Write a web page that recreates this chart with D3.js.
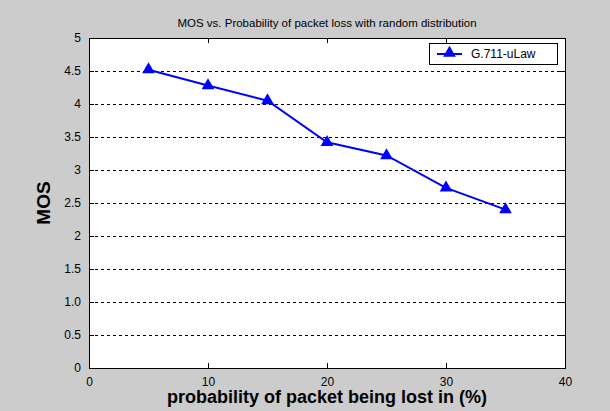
<!DOCTYPE html>
<html>
<head>
<meta charset="utf-8">
<script src="https://cdn.jsdelivr.net/npm/d3@7"></script>
<style>
  html, body { margin: 0; padding: 0; background: #cccccc; }
  svg { display: block; font-family: "Liberation Sans", Arial, sans-serif; }
</style>
</head>
<body>
<svg id="chart" width="610" height="411"></svg>
<script>
// data
const lossPct = [5, 10, 15, 20, 25, 30, 35];
const mosValues = [4.52, 4.28, 4.05, 3.42, 3.22, 2.73, 2.40];
const seriesName = "G.711-uLaw";
const xTicks = [0, 10, 20, 30, 40];
const yTicks = [0, 0.5, 1, 1.5, 2, 2.5, 3, 3.5, 4, 4.5, 5];
const yTickLabels = ["0", "0.5", "1.0", "1.5", "2", "2.5", "3", "3.5", "4", "4.5", "5"];

const svg = d3.select("#chart");
const margin = { top: 38, right: 45, bottom: 43, left: 89 };
const width = 610 - margin.left - margin.right;
const height = 411 - margin.top - margin.bottom;

svg.append("rect").attr("width", 610).attr("height", 411).attr("fill", "#cccccc");

const g = svg.append("g").attr("transform", `translate(${margin.left},${margin.top})`);

const x = d3.scaleLinear().domain([0, 40]).range([0, width]);
const y = d3.scaleLinear().domain([0, 5]).range([height, 0]);

// plot area
g.append("rect").attr("width", width).attr("height", height).attr("fill", "#ffffff");

// dashed grid
g.append("g")
  .selectAll("line")
  .data(yTicks.filter(d => d > 0 && d < 5))
  .enter().append("line")
  .attr("x1", 0).attr("x2", width)
  .attr("y1", d => y(d)).attr("y2", d => y(d))
  .attr("stroke", "#000")
  .attr("stroke-width", 1)
  .attr("stroke-dasharray", "3,3")
  .attr("shape-rendering", "crispEdges");

// axes with inward ticks
g.append("g")
  .attr("transform", `translate(0,${height})`)
  .call(d3.axisBottom(x).tickValues(xTicks).tickSizeInner(-5).tickSizeOuter(0).tickPadding(9));
g.append("g")
  .call(d3.axisTop(x).tickValues(xTicks).tickSizeInner(-5).tickSizeOuter(0).tickFormat(""));
g.append("g")
  .call(d3.axisLeft(y).tickValues(yTicks).tickSizeInner(-5).tickSizeOuter(0).tickPadding(8)
    .tickFormat((d, i) => yTickLabels[i]));
g.append("g")
  .attr("transform", `translate(${width},0)`)
  .call(d3.axisRight(y).tickValues(yTicks).tickSizeInner(-5).tickSizeOuter(0).tickFormat(""));

svg.selectAll(".domain").remove();
svg.selectAll(".tick line").attr("stroke", "#000").attr("shape-rendering", "crispEdges");
svg.selectAll(".tick text")
  .attr("font-size", "12px")
  .attr("fill", "#000")
  .attr("font-family", "Liberation Sans, Arial, sans-serif");

// box
g.append("rect")
  .attr("width", width).attr("height", height)
  .attr("fill", "none").attr("stroke", "#000").attr("stroke-width", 1)
  .attr("shape-rendering", "crispEdges");

// series
const line = d3.line().x((d, i) => x(lossPct[i])).y(d => y(d));
g.append("path")
  .datum(mosValues)
  .attr("d", line)
  .attr("fill", "none")
  .attr("stroke", "#0000ff")
  .attr("stroke-width", 2);

const tri = d3.symbol().type(d3.symbolTriangle).size(70);
g.selectAll(".marker")
  .data(mosValues)
  .enter().append("path")
  .attr("class", "marker")
  .attr("d", tri)
  .attr("transform", (d, i) => `translate(${x(lossPct[i])},${y(d)})`)
  .attr("fill", "#0000ff");

// legend
const legend = svg.append("g").attr("transform", "translate(429,43)");
legend.append("rect")
  .attr("width", 128).attr("height", 21)
  .attr("fill", "#fff").attr("stroke", "#000")
  .attr("shape-rendering", "crispEdges");
legend.append("line")
  .attr("x1", 8).attr("x2", 33).attr("y1", 11).attr("y2", 11)
  .attr("stroke", "#0000ff").attr("stroke-width", 2);
legend.append("path")
  .attr("d", tri)
  .attr("transform", "translate(20.5,10)")
  .attr("fill", "#0000ff");
legend.append("text")
  .attr("x", 42).attr("y", 15)
  .attr("font-size", "12px")
  .attr("fill", "#000")
  .text(seriesName);

// title and axis labels
svg.append("text")
  .attr("x", margin.left + width / 2).attr("y", 27)
  .attr("text-anchor", "middle")
  .attr("font-size", "11.5px")
  .attr("fill", "#000")
  .text("MOS vs. Probability of packet loss with random distribution");

svg.append("text")
  .attr("x", margin.left + width / 2).attr("y", 403)
  .attr("text-anchor", "middle")
  .attr("font-size", "18px")
  .attr("font-weight", "bold")
  .attr("fill", "#000")
  .text("probability of packet being lost in (%)");

svg.append("text")
  .attr("transform", `translate(50,${margin.top + height / 2}) rotate(-90)`)
  .attr("text-anchor", "middle")
  .attr("font-size", "19px")
  .attr("font-weight", "bold")
  .attr("fill", "#000")
  .text("MOS");
</script>
</body>
</html>
